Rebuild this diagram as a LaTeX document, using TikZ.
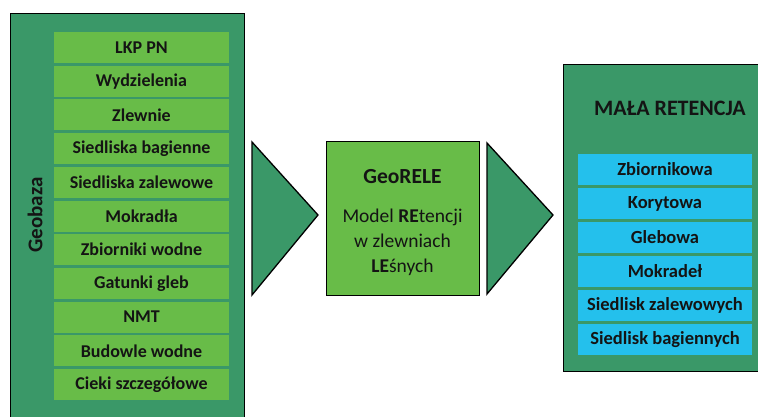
\documentclass[tikz,border=0pt]{standalone}
\usepackage{fontspec}
\setmainfont{Carlito}
\definecolor{darkg}{RGB}{58,152,104}
\definecolor{lightg}{RGB}{104,188,72}
\definecolor{cyanb}{RGB}{36,192,236}
\definecolor{txt}{RGB}{20,20,20}
\tikzset{
  outerbox/.style={draw=black, line width=1.3pt, fill=darkg},
  itembox/.style={fill=lightg, minimum width=175pt, minimum height=31pt, inner sep=0pt, font=\bfseries\fontsize{18}{20}\selectfont, text=txt},
  bluebox/.style={fill=cyanb, minimum width=174pt, minimum height=31pt, inner sep=0pt, font=\bfseries\fontsize{18.5}{20}\selectfont, text=txt},
  arrowtri/.style={draw=black, line width=1.3pt, fill=darkg, line join=miter},
}
\begin{document}
\begin{tikzpicture}[x=1pt,y=-1pt]
\useasboundingbox (0,0) rectangle (758,417);
\fill[white] (0,0) rectangle (758,417);
\begin{scope}
\clip (0,0) rectangle (758,417);
% left container
\node[outerbox, minimum width=234pt, minimum height=420pt, inner sep=0pt, anchor=north west] (geo) at (10,13) {};
\node[rotate=90, font=\bfseries\fontsize{21}{23}\selectfont, text=txt] (geolab) at (35,215) {Geobaza};
\foreach \t [count=\i from 0] in {LKP PN, Wydzielenia, Zlewnie, Siedliska bagienne, Siedliska zalewowe, Mokradła, Zbiorniki wodne, Gatunki gleb, NMT, Budowle wodne, Cieki szczegółowe} {
  \node[itembox] (g\i) at (141.5, 47.5+33.7*\i) {\t};
}
% right container
\node[outerbox, minimum width=210pt, minimum height=307pt, inner sep=0pt, anchor=north west] (mr) at (563,64) {};
\node[font=\bfseries\fontsize{22}{24}\selectfont, text=txt] (mrlab) at (670,108) {MAŁA RETENCJA};
\foreach \t [count=\i from 0] in {Zbiornikowa, Korytowa, Glebowa, Mokradeł, Siedlisk zalewowych, Siedlisk bagiennych} {
  \node[bluebox] (r\i) at (665, 169.5+34*\i) {\t};
}
\end{scope}
% middle
\node[draw=black, line width=1.3pt, fill=lightg, minimum width=153pt, minimum height=154pt, inner sep=0pt, anchor=north west] (model) at (326,141) {};
\node[font=\bfseries\fontsize{21.5}{24}\selectfont, text=txt] (mt) at (402.5,177) {GeoRELE};
\node[font=\fontsize{19.5}{25}\selectfont, text=txt, align=center, anchor=north] (md) at (402.5,205) {Model \textbf{RE}tencji\\w zlewniach\\\textbf{LE}śnych};
% triangles
\coordinate (t1a) at (252,142);
\coordinate (t1b) at (252,295);
\coordinate (t1c) at (318,215);
\draw[arrowtri] (t1a) -- (t1c) -- (t1b) -- cycle;
\coordinate (t2a) at (487,143);
\coordinate (t2b) at (487,294);
\coordinate (t2c) at (553,215);
\draw[arrowtri] (t2a) -- (t2c) -- (t2b) -- cycle;
\end{tikzpicture}
\end{document}
